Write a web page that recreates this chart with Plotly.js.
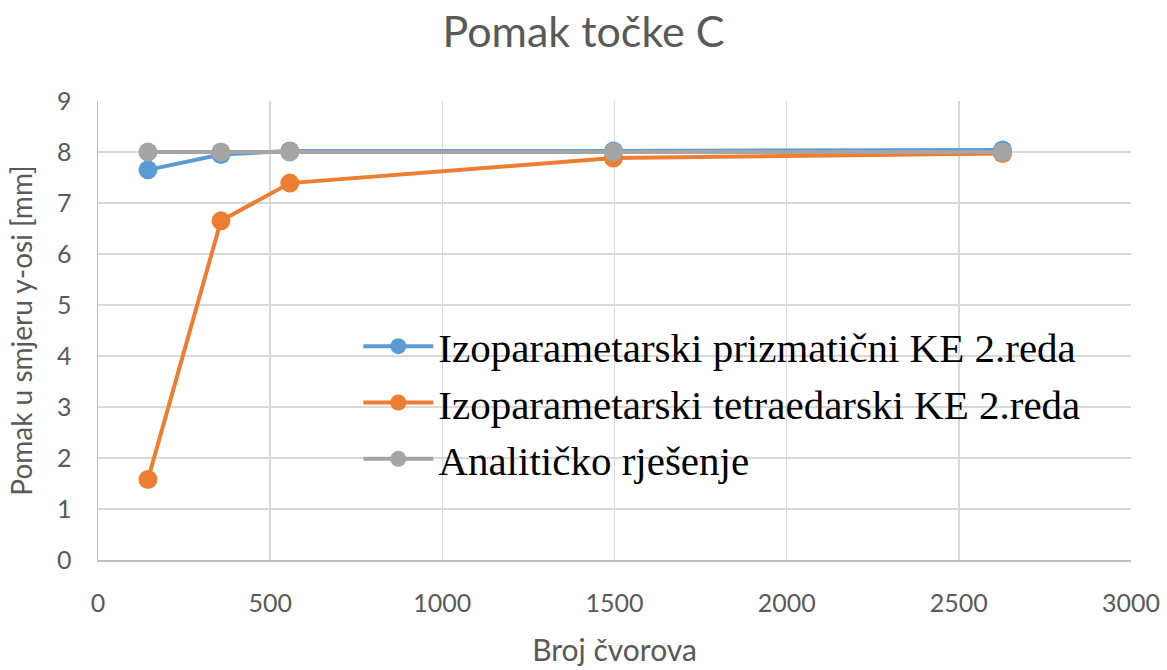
<!DOCTYPE html>
<html>
<head>
<meta charset="utf-8">
<script src="https://cdn.plot.ly/plotly-3.0.1.min.js"></script>
<style>html,body{margin:0;padding:0;background:#fff;}#chart{width:1167px;height:670px;}</style>
</head>
<body>
<div id="chart"></div>
<script>
var nodes = [145, 357, 557, 1497, 2627];
var prizmaticni = [7.65, 7.95, 8.02, 8.02, 8.04];
var tetraedarski = [1.58, 6.65, 7.39, 7.88, 7.97];
var analiticko = [8.0, 8.0, 8.0, 8.0, 8.0];
var seriesNames = ['Izoparametarski prizmatični KE 2.reda', 'Izoparametarski tetraedarski KE 2.reda', 'Analitičko rješenje'];
var seriesColors = ['#5B9BD5', '#ED7D31', '#A5A5A5'];
var seriesValues = [prizmaticni, tetraedarski, analiticko];

var traces = seriesValues.map(function (vals, i) {
  return {
    x: nodes, y: vals, type: 'scatter', mode: 'lines+markers',
    name: seriesNames[i], legendgroup: 'g' + i,
    line: {color: seriesColors[i], width: 4},
    marker: {color: seriesColors[i], size: 19}
  };
});

var fam = 'Lato, "Open Sans", sans-serif';
var axisFont = {family: fam, size: 25, color: '#595959'};
var layout = {
  width: 1167, height: 670,
  margin: {l: 98, r: 36, t: 101, b: 110},
  paper_bgcolor: '#ffffff', plot_bgcolor: '#ffffff',
  title: {text: 'Pomak točke C', font: {family: fam, size: 43, color: '#595959'}, x: 0.5, xanchor: 'center', y: 0.952, yanchor: 'middle'},
  xaxis: {
    range: [0, 3000], dtick: 500, tick0: 0,
    showgrid: true, gridcolor: '#D9D9D9', gridwidth: 1.5,
    zeroline: false, showline: true, linecolor: '#BFBFBF', linewidth: 1.5,
    ticks: '', tickfont: axisFont, ticklabelstandoff: 20,
    title: {text: 'Broj čvorova', font: {family: fam, size: 30, color: '#595959'}, standoff: 24}
  },
  yaxis: {
    range: [0, 9], dtick: 1, tick0: 0,
    showgrid: true, gridcolor: '#D9D9D9', gridwidth: 1.5,
    zeroline: false, showline: true, linecolor: '#BFBFBF', linewidth: 1.5,
    ticks: '', tickfont: axisFont, ticklabelstandoff: 20,
    title: {text: 'Pomak u smjeru y-osi [mm]', font: {family: fam, size: 28, color: '#595959'}, standoff: 16}
  },
  legend: {
    x: 0.252, y: 0.538, xanchor: 'left', yanchor: 'top',
    bgcolor: 'rgba(0,0,0,0)', borderwidth: 0,
    font: {family: '"Liberation Serif", "Times New Roman", serif', size: 41, color: '#000000'},
    itemwidth: 70, tracegroupgap: 3, traceorder: 'normal'
  },
  showlegend: true
};

Plotly.newPlot('chart', traces, layout, {displayModeBar: false, staticPlot: true});
</script>
</body>
</html>
